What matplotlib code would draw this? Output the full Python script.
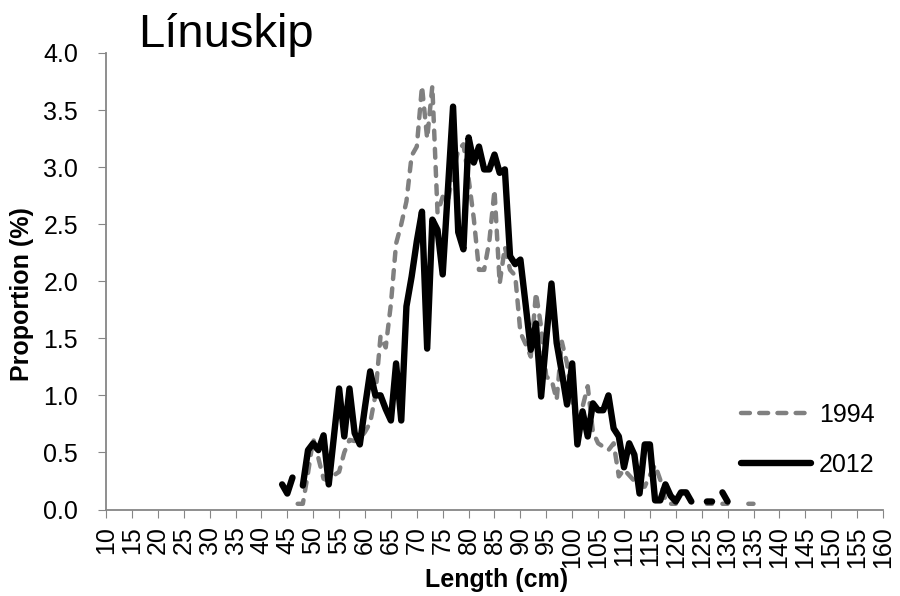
import numpy as np
import matplotlib.pyplot as plt
from matplotlib.ticker import FormatStrFormatter

plt.rcParams['font.family'] = ['Liberation Sans', 'DejaVu Sans']

# lengths in cm, one value per cm (NaN = no data)
length = list(range(44, 136))

y1994 = [np.nan, np.nan, np.nan, 0.05, 0.05, 0.32, 0.62, 0.45, 0.27, 0.25,   # 44-53
         0.30, 0.33, 0.50, 0.61, 0.60, 0.62, 0.68, 0.76, 1.00, 1.52,         # 54-63
         1.42, 1.80, 2.33, 2.50, 2.70, 3.10, 3.18, 3.71, 3.25, 3.71,         # 64-73
         2.60, 2.74, 2.70, 2.95, 3.15, 3.20, 2.90, 2.55, 2.10, 2.10,         # 74-83
         2.35, 2.80, 1.98, 2.30, 2.10, 2.05, 1.55, 1.45, 1.34, 1.90,         # 84-93
         1.60, 1.16, 1.14, 0.96, 1.47, 1.28, 0.95, 0.73, 0.90, 1.08,         # 94-103
         0.68, 0.58, 0.55, 0.52, 0.58, 0.29, 0.35, 0.30, 0.25, 0.20,         # 104-113
         0.20, 0.30, 0.39, 0.26, 0.08, 0.05, 0.05, np.nan, np.nan, np.nan,   # 114-123
         np.nan, np.nan, 0.05, 0.05, np.nan, 0.05, 0.05, np.nan, np.nan, np.nan,  # 124-133
         0.05, 0.05]                                                          # 134-135

y2012 = [0.22, 0.14, 0.28, np.nan, 0.21, 0.52, 0.58, 0.52, 0.65, 0.22,       # 44-53
         0.64, 1.06, 0.64, 1.06, 0.67, 0.57, 0.90, 1.21, 1.00, 1.00,         # 54-63
         0.88, 0.78, 1.28, 0.78, 1.78, 2.04, 2.35, 2.61, 1.41, 2.54,         # 64-73
         2.45, 2.06, 2.80, 3.53, 2.43, 2.28, 3.26, 3.04, 3.18, 2.98,         # 74-83
         2.98, 3.11, 2.95, 2.98, 2.22, 2.15, 2.19, 1.80, 1.40, 1.63,         # 84-93
         0.99, 1.50, 1.98, 1.46, 1.20, 0.92, 1.28, 0.57, 0.86, 0.64,         # 94-103
         0.93, 0.87, 0.87, 1.00, 0.71, 0.64, 0.37, 0.58, 0.48, 0.14,         # 104-113
         0.57, 0.57, 0.08, 0.08, 0.22, 0.12, 0.07, 0.15, 0.15, 0.07,         # 114-123
         np.nan, np.nan, 0.07, 0.07, np.nan, 0.15, 0.07, np.nan, np.nan, np.nan,  # 124-133
         np.nan, np.nan]                                                      # 134-135

fig = plt.figure(figsize=(9, 5.96), dpi=100)
ax = fig.add_axes([106/900, 1 - 509.5/596, 777/900, 456.5/596])

ax.plot(length, y1994, color='#808080', lw=3.2, linestyle=(0, (2, 2.1)),
        dash_capstyle='round', solid_capstyle='round', label='1994')
ax.plot(length, y2012, color='black', lw=4.6, solid_capstyle='round',
        solid_joinstyle='round', label='2012')

ax.set_xlim(10, 160)
ax.set_ylim(0, 4)
ax.set_xticks(range(10, 161, 5))
ax.set_yticks(np.arange(0, 4.01, 0.5))
ax.yaxis.set_major_formatter(FormatStrFormatter('%.1f'))
ax.tick_params(axis='x', labelrotation=90, labelsize=18, length=6, color='#868686', pad=6)
ax.tick_params(axis='y', labelsize=18, length=6, color='#868686', pad=14)

for s in ['top', 'right']:
    ax.spines[s].set_visible(False)
for s in ['left', 'bottom']:
    ax.spines[s].set_color('#868686')
    ax.spines[s].set_linewidth(1.3)

fig.text(138/900, 1 - 47/596, 'Línuskip', fontsize=34, va='baseline', ha='left')
fig.text(497/900, 1 - 580/596, 'Length (cm)', fontsize=18, fontweight='bold', ha='center', va='center')
fig.text(22/900, 1 - 294/596, 'Proportion (%)', fontsize=18, fontweight='bold', ha='center',
         va='center', rotation=90)

ax.legend(loc='upper left', bbox_to_anchor=(718/900, 1 - 380/596), bbox_transform=fig.transFigure,
          frameon=False, fontsize=18, handlelength=2.8, handletextpad=0.35, labelspacing=1.05)

fig.savefig('out.png', dpi=100)
